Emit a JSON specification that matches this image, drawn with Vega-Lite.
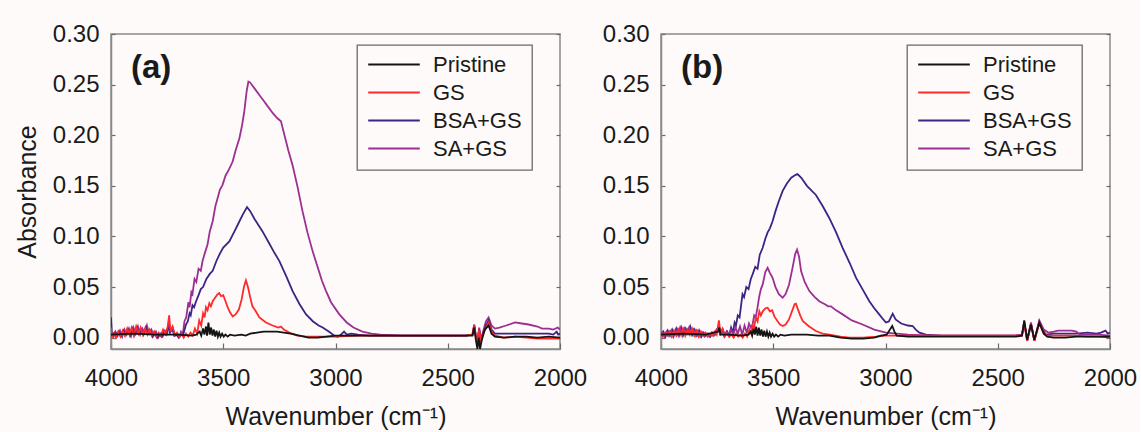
{
"$schema": "https://vega.github.io/schema/vega-lite/v6.json",
"background": "#fdfaf9",
"padding": {"left": 14, "top": 21, "right": 2, "bottom": 2},
"config": {
  "font": "Liberation Sans",
  "view": {"stroke": "#8a8a8a", "strokeWidth": 1.5},
  "axis": {"labelFont": "Liberation Sans", "labelFontSize": 24, "labelColor": "#1a1a1a", "titleFont": "Liberation Sans", "titleFontSize": 25, "titleFontWeight": "normal", "titleColor": "#1a1a1a", "grid": false, "domainColor": "#8a8a8a", "domainWidth": 1.5, "tickColor": "#6a6a6a", "tickWidth": 1.2},
  "legend": {"orient": "none", "legendX": 246, "legendY": 11, "strokeColor": "#6a6a6a", "strokeWidth": 1.3, "fillColor": "#fdfaf9", "padding": 10, "symbolType": "stroke", "symbolSize": 2660, "symbolStrokeWidth": 2, "labelFontSize": 22, "labelFont": "Liberation Sans", "labelColor": "#1a1a1a", "labelOffset": 12, "rowPadding": 5, "clipHeight": 19, "labelLimit": 250}
},
"datasets": {"d": [
{"p":"a","s":"SA+GS","w":4000,"a":0.004},{"p":"a","s":"SA+GS","w":3990,"a":0.001},{"p":"a","s":"SA+GS","w":3980,"a":0.006},{"p":"a","s":"SA+GS","w":3970,"a":0.002},{"p":"a","s":"SA+GS","w":3960,"a":0.007},{"p":"a","s":"SA+GS","w":3950,"a":0.001},{"p":"a","s":"SA+GS","w":3940,"a":0.008},{"p":"a","s":"SA+GS","w":3930,"a":0.003},{"p":"a","s":"SA+GS","w":3920,"a":0.009},{"p":"a","s":"SA+GS","w":3910,"a":0.002},{"p":"a","s":"SA+GS","w":3900,"a":0.010},{"p":"a","s":"SA+GS","w":3890,"a":0.004},{"p":"a","s":"SA+GS","w":3880,"a":0.011},{"p":"a","s":"SA+GS","w":3870,"a":0.003},{"p":"a","s":"SA+GS","w":3860,"a":0.009},{"p":"a","s":"SA+GS","w":3850,"a":0.005},{"p":"a","s":"SA+GS","w":3840,"a":0.012},{"p":"a","s":"SA+GS","w":3830,"a":0.004},{"p":"a","s":"SA+GS","w":3820,"a":0.008},{"p":"a","s":"SA+GS","w":3810,"a":0.002},{"p":"a","s":"SA+GS","w":3800,"a":0.006},{"p":"a","s":"SA+GS","w":3790,"a":0.000},{"p":"a","s":"SA+GS","w":3780,"a":0.004},{"p":"a","s":"SA+GS","w":3770,"a":0.001},{"p":"a","s":"SA+GS","w":3760,"a":0.007},{"p":"a","s":"SA+GS","w":3750,"a":0.004},{"p":"a","s":"SA+GS","w":3742,"a":0.015},{"p":"a","s":"SA+GS","w":3735,"a":0.006},{"p":"a","s":"SA+GS","w":3725,"a":0.010},{"p":"a","s":"SA+GS","w":3715,"a":0.002},{"p":"a","s":"SA+GS","w":3705,"a":0.004},{"p":"a","s":"SA+GS","w":3695,"a":0.001},{"p":"a","s":"SA+GS","w":3688,"a":0.006},{"p":"a","s":"SA+GS","w":3680,"a":0.003},{"p":"a","s":"SA+GS","w":3673,"a":0.016},{"p":"a","s":"SA+GS","w":3665,"a":0.020},{"p":"a","s":"SA+GS","w":3655,"a":0.035},{"p":"a","s":"SA+GS","w":3650,"a":0.030},{"p":"a","s":"SA+GS","w":3642,"a":0.045},{"p":"a","s":"SA+GS","w":3637,"a":0.043},{"p":"a","s":"SA+GS","w":3628,"a":0.058},{"p":"a","s":"SA+GS","w":3620,"a":0.055},{"p":"a","s":"SA+GS","w":3610,"a":0.068},{"p":"a","s":"SA+GS","w":3600,"a":0.066},{"p":"a","s":"SA+GS","w":3592,"a":0.076},{"p":"a","s":"SA+GS","w":3580,"a":0.085},{"p":"a","s":"SA+GS","w":3570,"a":0.092},{"p":"a","s":"SA+GS","w":3560,"a":0.105},{"p":"a","s":"SA+GS","w":3547,"a":0.115},{"p":"a","s":"SA+GS","w":3535,"a":0.130},{"p":"a","s":"SA+GS","w":3525,"a":0.138},{"p":"a","s":"SA+GS","w":3515,"a":0.146},{"p":"a","s":"SA+GS","w":3503,"a":0.151},{"p":"a","s":"SA+GS","w":3490,"a":0.160},{"p":"a","s":"SA+GS","w":3475,"a":0.166},{"p":"a","s":"SA+GS","w":3458,"a":0.174},{"p":"a","s":"SA+GS","w":3445,"a":0.185},{"p":"a","s":"SA+GS","w":3428,"a":0.197},{"p":"a","s":"SA+GS","w":3416,"a":0.210},{"p":"a","s":"SA+GS","w":3406,"a":0.224},{"p":"a","s":"SA+GS","w":3396,"a":0.243},{"p":"a","s":"SA+GS","w":3388,"a":0.253},{"p":"a","s":"SA+GS","w":3380,"a":0.252},{"p":"a","s":"SA+GS","w":3360,"a":0.246},{"p":"a","s":"SA+GS","w":3340,"a":0.240},{"p":"a","s":"SA+GS","w":3320,"a":0.234},{"p":"a","s":"SA+GS","w":3300,"a":0.228},{"p":"a","s":"SA+GS","w":3280,"a":0.222},{"p":"a","s":"SA+GS","w":3260,"a":0.217},{"p":"a","s":"SA+GS","w":3243,"a":0.2137},{"p":"a","s":"SA+GS","w":3225,"a":0.198},{"p":"a","s":"SA+GS","w":3210,"a":0.185},{"p":"a","s":"SA+GS","w":3191,"a":0.170},{"p":"a","s":"SA+GS","w":3170,"a":0.150},{"p":"a","s":"SA+GS","w":3147,"a":0.125},{"p":"a","s":"SA+GS","w":3125,"a":0.104},{"p":"a","s":"SA+GS","w":3102,"a":0.0855},{"p":"a","s":"SA+GS","w":3080,"a":0.070},{"p":"a","s":"SA+GS","w":3060,"a":0.056},{"p":"a","s":"SA+GS","w":3042,"a":0.046},{"p":"a","s":"SA+GS","w":3020,"a":0.035},{"p":"a","s":"SA+GS","w":2983,"a":0.023},{"p":"a","s":"SA+GS","w":2950,"a":0.015},{"p":"a","s":"SA+GS","w":2920,"a":0.010},{"p":"a","s":"SA+GS","w":2880,"a":0.006},{"p":"a","s":"SA+GS","w":2840,"a":0.004},{"p":"a","s":"SA+GS","w":2800,"a":0.003},{"p":"a","s":"SA+GS","w":2700,"a":0.002},{"p":"a","s":"SA+GS","w":2600,"a":0.002},{"p":"a","s":"SA+GS","w":2500,"a":0.002},{"p":"a","s":"SA+GS","w":2420,"a":0.002},{"p":"a","s":"SA+GS","w":2390,"a":0.003},{"p":"a","s":"SA+GS","w":2382,"a":0.013},{"p":"a","s":"SA+GS","w":2375,"a":0.002},{"p":"a","s":"SA+GS","w":2368,"a":-0.004},{"p":"a","s":"SA+GS","w":2360,"a":0.010},{"p":"a","s":"SA+GS","w":2352,"a":-0.003},{"p":"a","s":"SA+GS","w":2345,"a":0.004},{"p":"a","s":"SA+GS","w":2330,"a":0.016},{"p":"a","s":"SA+GS","w":2318,"a":0.020},{"p":"a","s":"SA+GS","w":2305,"a":0.012},{"p":"a","s":"SA+GS","w":2290,"a":0.009},{"p":"a","s":"SA+GS","w":2270,"a":0.010},{"p":"a","s":"SA+GS","w":2240,"a":0.012},{"p":"a","s":"SA+GS","w":2200,"a":0.015},{"p":"a","s":"SA+GS","w":2170,"a":0.014},{"p":"a","s":"SA+GS","w":2140,"a":0.013},{"p":"a","s":"SA+GS","w":2100,"a":0.011},{"p":"a","s":"SA+GS","w":2080,"a":0.009},{"p":"a","s":"SA+GS","w":2050,"a":0.009},{"p":"a","s":"SA+GS","w":2030,"a":0.008},{"p":"a","s":"SA+GS","w":2010,"a":0.010},{"p":"a","s":"SA+GS","w":2000,"a":0.008},
{"p":"a","s":"BSA+GS","w":4000,"a":0.020},{"p":"a","s":"BSA+GS","w":3996,"a":0.003},{"p":"a","s":"BSA+GS","w":3985,"a":0.005},{"p":"a","s":"BSA+GS","w":3975,"a":0.001},{"p":"a","s":"BSA+GS","w":3965,"a":0.006},{"p":"a","s":"BSA+GS","w":3955,"a":0.002},{"p":"a","s":"BSA+GS","w":3945,"a":0.007},{"p":"a","s":"BSA+GS","w":3935,"a":0.003},{"p":"a","s":"BSA+GS","w":3925,"a":0.008},{"p":"a","s":"BSA+GS","w":3915,"a":0.002},{"p":"a","s":"BSA+GS","w":3905,"a":0.009},{"p":"a","s":"BSA+GS","w":3895,"a":0.003},{"p":"a","s":"BSA+GS","w":3885,"a":0.010},{"p":"a","s":"BSA+GS","w":3875,"a":0.004},{"p":"a","s":"BSA+GS","w":3865,"a":0.008},{"p":"a","s":"BSA+GS","w":3855,"a":0.003},{"p":"a","s":"BSA+GS","w":3845,"a":0.010},{"p":"a","s":"BSA+GS","w":3835,"a":0.004},{"p":"a","s":"BSA+GS","w":3825,"a":0.007},{"p":"a","s":"BSA+GS","w":3815,"a":0.001},{"p":"a","s":"BSA+GS","w":3805,"a":0.005},{"p":"a","s":"BSA+GS","w":3795,"a":0.000},{"p":"a","s":"BSA+GS","w":3785,"a":0.003},{"p":"a","s":"BSA+GS","w":3775,"a":0.001},{"p":"a","s":"BSA+GS","w":3765,"a":0.006},{"p":"a","s":"BSA+GS","w":3755,"a":0.003},{"p":"a","s":"BSA+GS","w":3745,"a":0.012},{"p":"a","s":"BSA+GS","w":3738,"a":0.005},{"p":"a","s":"BSA+GS","w":3728,"a":0.009},{"p":"a","s":"BSA+GS","w":3718,"a":0.002},{"p":"a","s":"BSA+GS","w":3708,"a":0.003},{"p":"a","s":"BSA+GS","w":3698,"a":0.000},{"p":"a","s":"BSA+GS","w":3688,"a":0.003},{"p":"a","s":"BSA+GS","w":3680,"a":0.002},{"p":"a","s":"BSA+GS","w":3672,"a":0.008},{"p":"a","s":"BSA+GS","w":3666,"a":0.013},{"p":"a","s":"BSA+GS","w":3658,"a":0.016},{"p":"a","s":"BSA+GS","w":3650,"a":0.024},{"p":"a","s":"BSA+GS","w":3645,"a":0.022},{"p":"a","s":"BSA+GS","w":3637,"a":0.032},{"p":"a","s":"BSA+GS","w":3630,"a":0.030},{"p":"a","s":"BSA+GS","w":3621,"a":0.036},{"p":"a","s":"BSA+GS","w":3610,"a":0.042},{"p":"a","s":"BSA+GS","w":3600,"a":0.048},{"p":"a","s":"BSA+GS","w":3590,"a":0.050},{"p":"a","s":"BSA+GS","w":3575,"a":0.058},{"p":"a","s":"BSA+GS","w":3560,"a":0.063},{"p":"a","s":"BSA+GS","w":3547,"a":0.066},{"p":"a","s":"BSA+GS","w":3530,"a":0.076},{"p":"a","s":"BSA+GS","w":3515,"a":0.083},{"p":"a","s":"BSA+GS","w":3500,"a":0.089},{"p":"a","s":"BSA+GS","w":3473,"a":0.095},{"p":"a","s":"BSA+GS","w":3450,"a":0.105},{"p":"a","s":"BSA+GS","w":3430,"a":0.114},{"p":"a","s":"BSA+GS","w":3412,"a":0.122},{"p":"a","s":"BSA+GS","w":3394,"a":0.129},{"p":"a","s":"BSA+GS","w":3380,"a":0.125},{"p":"a","s":"BSA+GS","w":3360,"a":0.117},{"p":"a","s":"BSA+GS","w":3340,"a":0.110},{"p":"a","s":"BSA+GS","w":3325,"a":0.105},{"p":"a","s":"BSA+GS","w":3300,"a":0.095},{"p":"a","s":"BSA+GS","w":3275,"a":0.085},{"p":"a","s":"BSA+GS","w":3250,"a":0.0756},{"p":"a","s":"BSA+GS","w":3220,"a":0.061},{"p":"a","s":"BSA+GS","w":3191,"a":0.046},{"p":"a","s":"BSA+GS","w":3160,"a":0.033},{"p":"a","s":"BSA+GS","w":3131,"a":0.023},{"p":"a","s":"BSA+GS","w":3100,"a":0.016},{"p":"a","s":"BSA+GS","w":3075,"a":0.012},{"p":"a","s":"BSA+GS","w":3057,"a":0.010},{"p":"a","s":"BSA+GS","w":3030,"a":0.006},{"p":"a","s":"BSA+GS","w":3005,"a":0.002},{"p":"a","s":"BSA+GS","w":2990,"a":0.001},{"p":"a","s":"BSA+GS","w":2975,"a":0.003},{"p":"a","s":"BSA+GS","w":2962,"a":0.006},{"p":"a","s":"BSA+GS","w":2950,"a":0.003},{"p":"a","s":"BSA+GS","w":2930,"a":0.004},{"p":"a","s":"BSA+GS","w":2900,"a":0.003},{"p":"a","s":"BSA+GS","w":2850,"a":0.002},{"p":"a","s":"BSA+GS","w":2800,"a":0.002},{"p":"a","s":"BSA+GS","w":2700,"a":0.002},{"p":"a","s":"BSA+GS","w":2600,"a":0.002},{"p":"a","s":"BSA+GS","w":2500,"a":0.002},{"p":"a","s":"BSA+GS","w":2420,"a":0.002},{"p":"a","s":"BSA+GS","w":2390,"a":0.003},{"p":"a","s":"BSA+GS","w":2382,"a":0.012},{"p":"a","s":"BSA+GS","w":2375,"a":0.002},{"p":"a","s":"BSA+GS","w":2368,"a":-0.005},{"p":"a","s":"BSA+GS","w":2360,"a":0.008},{"p":"a","s":"BSA+GS","w":2352,"a":-0.004},{"p":"a","s":"BSA+GS","w":2345,"a":0.003},{"p":"a","s":"BSA+GS","w":2330,"a":0.012},{"p":"a","s":"BSA+GS","w":2318,"a":0.017},{"p":"a","s":"BSA+GS","w":2305,"a":0.008},{"p":"a","s":"BSA+GS","w":2290,"a":0.004},{"p":"a","s":"BSA+GS","w":2250,"a":0.004},{"p":"a","s":"BSA+GS","w":2200,"a":0.004},{"p":"a","s":"BSA+GS","w":2150,"a":0.004},{"p":"a","s":"BSA+GS","w":2100,"a":0.004},{"p":"a","s":"BSA+GS","w":2050,"a":0.004},{"p":"a","s":"BSA+GS","w":2030,"a":0.003},{"p":"a","s":"BSA+GS","w":2015,"a":0.006},{"p":"a","s":"BSA+GS","w":2008,"a":0.003},{"p":"a","s":"BSA+GS","w":2000,"a":0.004},
{"p":"a","s":"GS","w":4000,"a":0.010},{"p":"a","s":"GS","w":3995,"a":0.001},{"p":"a","s":"GS","w":3986,"a":0.004},{"p":"a","s":"GS","w":3978,"a":0.000},{"p":"a","s":"GS","w":3968,"a":0.006},{"p":"a","s":"GS","w":3958,"a":0.001},{"p":"a","s":"GS","w":3948,"a":0.007},{"p":"a","s":"GS","w":3938,"a":0.002},{"p":"a","s":"GS","w":3928,"a":0.009},{"p":"a","s":"GS","w":3918,"a":0.003},{"p":"a","s":"GS","w":3908,"a":0.010},{"p":"a","s":"GS","w":3898,"a":0.002},{"p":"a","s":"GS","w":3888,"a":0.011},{"p":"a","s":"GS","w":3878,"a":0.004},{"p":"a","s":"GS","w":3868,"a":0.010},{"p":"a","s":"GS","w":3858,"a":0.003},{"p":"a","s":"GS","w":3848,"a":0.009},{"p":"a","s":"GS","w":3838,"a":0.003},{"p":"a","s":"GS","w":3828,"a":0.008},{"p":"a","s":"GS","w":3818,"a":0.002},{"p":"a","s":"GS","w":3808,"a":0.006},{"p":"a","s":"GS","w":3798,"a":0.001},{"p":"a","s":"GS","w":3788,"a":0.005},{"p":"a","s":"GS","w":3778,"a":0.002},{"p":"a","s":"GS","w":3768,"a":0.008},{"p":"a","s":"GS","w":3758,"a":0.004},{"p":"a","s":"GS","w":3748,"a":0.010},{"p":"a","s":"GS","w":3741,"a":0.022},{"p":"a","s":"GS","w":3735,"a":0.006},{"p":"a","s":"GS","w":3726,"a":0.011},{"p":"a","s":"GS","w":3716,"a":0.003},{"p":"a","s":"GS","w":3706,"a":0.005},{"p":"a","s":"GS","w":3696,"a":0.001},{"p":"a","s":"GS","w":3686,"a":0.004},{"p":"a","s":"GS","w":3676,"a":0.000},{"p":"a","s":"GS","w":3666,"a":0.004},{"p":"a","s":"GS","w":3656,"a":0.001},{"p":"a","s":"GS","w":3646,"a":0.005},{"p":"a","s":"GS","w":3636,"a":0.002},{"p":"a","s":"GS","w":3626,"a":0.009},{"p":"a","s":"GS","w":3616,"a":0.004},{"p":"a","s":"GS","w":3607,"a":0.017},{"p":"a","s":"GS","w":3598,"a":0.012},{"p":"a","s":"GS","w":3590,"a":0.024},{"p":"a","s":"GS","w":3583,"a":0.020},{"p":"a","s":"GS","w":3577,"a":0.030},{"p":"a","s":"GS","w":3570,"a":0.027},{"p":"a","s":"GS","w":3562,"a":0.034},{"p":"a","s":"GS","w":3555,"a":0.031},{"p":"a","s":"GS","w":3547,"a":0.036},{"p":"a","s":"GS","w":3535,"a":0.040},{"p":"a","s":"GS","w":3525,"a":0.043},{"p":"a","s":"GS","w":3518,"a":0.044},{"p":"a","s":"GS","w":3510,"a":0.041},{"p":"a","s":"GS","w":3500,"a":0.042},{"p":"a","s":"GS","w":3490,"a":0.036},{"p":"a","s":"GS","w":3480,"a":0.030},{"p":"a","s":"GS","w":3470,"a":0.025},{"p":"a","s":"GS","w":3458,"a":0.021},{"p":"a","s":"GS","w":3445,"a":0.023},{"p":"a","s":"GS","w":3430,"a":0.028},{"p":"a","s":"GS","w":3418,"a":0.038},{"p":"a","s":"GS","w":3408,"a":0.050},{"p":"a","s":"GS","w":3399,"a":0.0566},{"p":"a","s":"GS","w":3390,"a":0.050},{"p":"a","s":"GS","w":3380,"a":0.040},{"p":"a","s":"GS","w":3370,"a":0.031},{"p":"a","s":"GS","w":3355,"a":0.026},{"p":"a","s":"GS","w":3339,"a":0.020},{"p":"a","s":"GS","w":3310,"a":0.015},{"p":"a","s":"GS","w":3280,"a":0.012},{"p":"a","s":"GS","w":3255,"a":0.010},{"p":"a","s":"GS","w":3243,"a":0.011},{"p":"a","s":"GS","w":3230,"a":0.008},{"p":"a","s":"GS","w":3206,"a":0.005},{"p":"a","s":"GS","w":3170,"a":0.002},{"p":"a","s":"GS","w":3131,"a":0.001},{"p":"a","s":"GS","w":3000,"a":0.001},{"p":"a","s":"GS","w":2900,"a":0.002},{"p":"a","s":"GS","w":2700,"a":0.002},{"p":"a","s":"GS","w":2500,"a":0.002},{"p":"a","s":"GS","w":2420,"a":0.002},{"p":"a","s":"GS","w":2390,"a":0.003},{"p":"a","s":"GS","w":2382,"a":0.012},{"p":"a","s":"GS","w":2375,"a":0.001},{"p":"a","s":"GS","w":2368,"a":-0.004},{"p":"a","s":"GS","w":2360,"a":0.008},{"p":"a","s":"GS","w":2352,"a":-0.003},{"p":"a","s":"GS","w":2345,"a":0.002},{"p":"a","s":"GS","w":2330,"a":0.010},{"p":"a","s":"GS","w":2318,"a":0.015},{"p":"a","s":"GS","w":2305,"a":0.006},{"p":"a","s":"GS","w":2290,"a":0.002},{"p":"a","s":"GS","w":2250,"a":0.000},{"p":"a","s":"GS","w":2200,"a":0.001},{"p":"a","s":"GS","w":2150,"a":0.000},{"p":"a","s":"GS","w":2100,"a":-0.001},{"p":"a","s":"GS","w":2050,"a":-0.001},{"p":"a","s":"GS","w":2000,"a":-0.001},
{"p":"a","s":"Pristine","w":4000,"a":0.003},{"p":"a","s":"Pristine","w":3900,"a":0.004},{"p":"a","s":"Pristine","w":3800,"a":0.003},{"p":"a","s":"Pristine","w":3700,"a":0.003},{"p":"a","s":"Pristine","w":3640,"a":0.002},{"p":"a","s":"Pristine","w":3620,"a":0.003},{"p":"a","s":"Pristine","w":3605,"a":0.006},{"p":"a","s":"Pristine","w":3598,"a":0.002},{"p":"a","s":"Pristine","w":3590,"a":0.009},{"p":"a","s":"Pristine","w":3584,"a":0.003},{"p":"a","s":"Pristine","w":3577,"a":0.011},{"p":"a","s":"Pristine","w":3572,"a":0.002},{"p":"a","s":"Pristine","w":3566,"a":0.015},{"p":"a","s":"Pristine","w":3560,"a":0.003},{"p":"a","s":"Pristine","w":3554,"a":0.010},{"p":"a","s":"Pristine","w":3548,"a":0.002},{"p":"a","s":"Pristine","w":3542,"a":0.008},{"p":"a","s":"Pristine","w":3536,"a":0.001},{"p":"a","s":"Pristine","w":3530,"a":0.007},{"p":"a","s":"Pristine","w":3524,"a":0.001},{"p":"a","s":"Pristine","w":3518,"a":0.005},{"p":"a","s":"Pristine","w":3512,"a":0.001},{"p":"a","s":"Pristine","w":3505,"a":0.004},{"p":"a","s":"Pristine","w":3498,"a":0.001},{"p":"a","s":"Pristine","w":3490,"a":0.003},{"p":"a","s":"Pristine","w":3480,"a":0.001},{"p":"a","s":"Pristine","w":3470,"a":0.003},{"p":"a","s":"Pristine","w":3450,"a":0.002},{"p":"a","s":"Pristine","w":3420,"a":0.003},{"p":"a","s":"Pristine","w":3400,"a":0.002},{"p":"a","s":"Pristine","w":3380,"a":0.004},{"p":"a","s":"Pristine","w":3350,"a":0.005},{"p":"a","s":"Pristine","w":3320,"a":0.006},{"p":"a","s":"Pristine","w":3290,"a":0.006},{"p":"a","s":"Pristine","w":3260,"a":0.006},{"p":"a","s":"Pristine","w":3230,"a":0.005},{"p":"a","s":"Pristine","w":3200,"a":0.004},{"p":"a","s":"Pristine","w":3160,"a":0.002},{"p":"a","s":"Pristine","w":3120,"a":0.000},{"p":"a","s":"Pristine","w":3080,"a":0.000},{"p":"a","s":"Pristine","w":3040,"a":0.001},{"p":"a","s":"Pristine","w":3000,"a":0.002},{"p":"a","s":"Pristine","w":2900,"a":0.002},{"p":"a","s":"Pristine","w":2800,"a":0.002},{"p":"a","s":"Pristine","w":2600,"a":0.002},{"p":"a","s":"Pristine","w":2420,"a":0.002},{"p":"a","s":"Pristine","w":2390,"a":0.002},{"p":"a","s":"Pristine","w":2382,"a":0.010},{"p":"a","s":"Pristine","w":2375,"a":-0.002},{"p":"a","s":"Pristine","w":2368,"a":-0.011},{"p":"a","s":"Pristine","w":2362,"a":0.000},{"p":"a","s":"Pristine","w":2356,"a":-0.011},{"p":"a","s":"Pristine","w":2348,"a":-0.002},{"p":"a","s":"Pristine","w":2335,"a":0.008},{"p":"a","s":"Pristine","w":2318,"a":0.012},{"p":"a","s":"Pristine","w":2305,"a":0.004},{"p":"a","s":"Pristine","w":2290,"a":0.001},{"p":"a","s":"Pristine","w":2250,"a":0.000},{"p":"a","s":"Pristine","w":2200,"a":0.001},{"p":"a","s":"Pristine","w":2150,"a":0.001},{"p":"a","s":"Pristine","w":2100,"a":0.000},{"p":"a","s":"Pristine","w":2050,"a":0.001},{"p":"a","s":"Pristine","w":2000,"a":0.000},
{"p":"b","s":"BSA+GS","w":4000,"a":0.003},{"p":"b","s":"BSA+GS","w":3990,"a":0.006},{"p":"b","s":"BSA+GS","w":3980,"a":0.001},{"p":"b","s":"BSA+GS","w":3970,"a":0.007},{"p":"b","s":"BSA+GS","w":3960,"a":0.002},{"p":"b","s":"BSA+GS","w":3950,"a":0.008},{"p":"b","s":"BSA+GS","w":3940,"a":0.003},{"p":"b","s":"BSA+GS","w":3930,"a":0.009},{"p":"b","s":"BSA+GS","w":3920,"a":0.002},{"p":"b","s":"BSA+GS","w":3910,"a":0.010},{"p":"b","s":"BSA+GS","w":3900,"a":0.003},{"p":"b","s":"BSA+GS","w":3890,"a":0.009},{"p":"b","s":"BSA+GS","w":3880,"a":0.004},{"p":"b","s":"BSA+GS","w":3870,"a":0.011},{"p":"b","s":"BSA+GS","w":3860,"a":0.003},{"p":"b","s":"BSA+GS","w":3850,"a":0.008},{"p":"b","s":"BSA+GS","w":3840,"a":0.002},{"p":"b","s":"BSA+GS","w":3830,"a":0.007},{"p":"b","s":"BSA+GS","w":3820,"a":0.001},{"p":"b","s":"BSA+GS","w":3810,"a":0.005},{"p":"b","s":"BSA+GS","w":3800,"a":0.002},{"p":"b","s":"BSA+GS","w":3790,"a":0.004},{"p":"b","s":"BSA+GS","w":3780,"a":0.001},{"p":"b","s":"BSA+GS","w":3770,"a":0.005},{"p":"b","s":"BSA+GS","w":3760,"a":0.003},{"p":"b","s":"BSA+GS","w":3750,"a":0.008},{"p":"b","s":"BSA+GS","w":3742,"a":0.012},{"p":"b","s":"BSA+GS","w":3735,"a":0.004},{"p":"b","s":"BSA+GS","w":3725,"a":0.008},{"p":"b","s":"BSA+GS","w":3715,"a":0.002},{"p":"b","s":"BSA+GS","w":3705,"a":0.006},{"p":"b","s":"BSA+GS","w":3696,"a":0.002},{"p":"b","s":"BSA+GS","w":3688,"a":0.010},{"p":"b","s":"BSA+GS","w":3680,"a":0.005},{"p":"b","s":"BSA+GS","w":3672,"a":0.015},{"p":"b","s":"BSA+GS","w":3666,"a":0.012},{"p":"b","s":"BSA+GS","w":3658,"a":0.022},{"p":"b","s":"BSA+GS","w":3650,"a":0.020},{"p":"b","s":"BSA+GS","w":3637,"a":0.043},{"p":"b","s":"BSA+GS","w":3630,"a":0.040},{"p":"b","s":"BSA+GS","w":3620,"a":0.050},{"p":"b","s":"BSA+GS","w":3610,"a":0.048},{"p":"b","s":"BSA+GS","w":3600,"a":0.058},{"p":"b","s":"BSA+GS","w":3592,"a":0.0625},{"p":"b","s":"BSA+GS","w":3580,"a":0.070},{"p":"b","s":"BSA+GS","w":3570,"a":0.068},{"p":"b","s":"BSA+GS","w":3560,"a":0.082},{"p":"b","s":"BSA+GS","w":3547,"a":0.0888},{"p":"b","s":"BSA+GS","w":3535,"a":0.098},{"p":"b","s":"BSA+GS","w":3525,"a":0.104},{"p":"b","s":"BSA+GS","w":3515,"a":0.108},{"p":"b","s":"BSA+GS","w":3503,"a":0.115},{"p":"b","s":"BSA+GS","w":3490,"a":0.125},{"p":"b","s":"BSA+GS","w":3475,"a":0.135},{"p":"b","s":"BSA+GS","w":3458,"a":0.145},{"p":"b","s":"BSA+GS","w":3440,"a":0.152},{"p":"b","s":"BSA+GS","w":3420,"a":0.158},{"p":"b","s":"BSA+GS","w":3400,"a":0.161},{"p":"b","s":"BSA+GS","w":3392,"a":0.1617},{"p":"b","s":"BSA+GS","w":3375,"a":0.158},{"p":"b","s":"BSA+GS","w":3350,"a":0.150},{"p":"b","s":"BSA+GS","w":3310,"a":0.141},{"p":"b","s":"BSA+GS","w":3280,"a":0.130},{"p":"b","s":"BSA+GS","w":3250,"a":0.118},{"p":"b","s":"BSA+GS","w":3220,"a":0.104},{"p":"b","s":"BSA+GS","w":3191,"a":0.0888},{"p":"b","s":"BSA+GS","w":3160,"a":0.074},{"p":"b","s":"BSA+GS","w":3131,"a":0.059},{"p":"b","s":"BSA+GS","w":3100,"a":0.047},{"p":"b","s":"BSA+GS","w":3072,"a":0.036},{"p":"b","s":"BSA+GS","w":3050,"a":0.029},{"p":"b","s":"BSA+GS","w":3028,"a":0.023},{"p":"b","s":"BSA+GS","w":3010,"a":0.018},{"p":"b","s":"BSA+GS","w":2998,"a":0.015},{"p":"b","s":"BSA+GS","w":2985,"a":0.016},{"p":"b","s":"BSA+GS","w":2968,"a":0.0237},{"p":"b","s":"BSA+GS","w":2955,"a":0.018},{"p":"b","s":"BSA+GS","w":2930,"a":0.014},{"p":"b","s":"BSA+GS","w":2900,"a":0.012},{"p":"b","s":"BSA+GS","w":2879,"a":0.0115},{"p":"b","s":"BSA+GS","w":2865,"a":0.008},{"p":"b","s":"BSA+GS","w":2849,"a":0.005},{"p":"b","s":"BSA+GS","w":2820,"a":0.003},{"p":"b","s":"BSA+GS","w":2750,"a":0.002},{"p":"b","s":"BSA+GS","w":2600,"a":0.002},{"p":"b","s":"BSA+GS","w":2500,"a":0.002},{"p":"b","s":"BSA+GS","w":2420,"a":0.002},{"p":"b","s":"BSA+GS","w":2392,"a":0.003},{"p":"b","s":"BSA+GS","w":2382,"a":0.015},{"p":"b","s":"BSA+GS","w":2369,"a":-0.003},{"p":"b","s":"BSA+GS","w":2352,"a":0.014},{"p":"b","s":"BSA+GS","w":2337,"a":-0.003},{"p":"b","s":"BSA+GS","w":2315,"a":0.016},{"p":"b","s":"BSA+GS","w":2295,"a":0.006},{"p":"b","s":"BSA+GS","w":2285,"a":0.003},{"p":"b","s":"BSA+GS","w":2250,"a":0.004},{"p":"b","s":"BSA+GS","w":2200,"a":0.004},{"p":"b","s":"BSA+GS","w":2150,"a":0.004},{"p":"b","s":"BSA+GS","w":2100,"a":0.005},{"p":"b","s":"BSA+GS","w":2060,"a":0.004},{"p":"b","s":"BSA+GS","w":2040,"a":0.005},{"p":"b","s":"BSA+GS","w":2020,"a":0.007},{"p":"b","s":"BSA+GS","w":2010,"a":0.004},{"p":"b","s":"BSA+GS","w":2000,"a":0.005},
{"p":"b","s":"SA+GS","w":4000,"a":0.002},{"p":"b","s":"SA+GS","w":3993,"a":0.005},{"p":"b","s":"SA+GS","w":3985,"a":0.001},{"p":"b","s":"SA+GS","w":3975,"a":0.006},{"p":"b","s":"SA+GS","w":3965,"a":0.002},{"p":"b","s":"SA+GS","w":3955,"a":0.007},{"p":"b","s":"SA+GS","w":3945,"a":0.001},{"p":"b","s":"SA+GS","w":3935,"a":0.008},{"p":"b","s":"SA+GS","w":3925,"a":0.003},{"p":"b","s":"SA+GS","w":3915,"a":0.010},{"p":"b","s":"SA+GS","w":3905,"a":0.002},{"p":"b","s":"SA+GS","w":3895,"a":0.009},{"p":"b","s":"SA+GS","w":3885,"a":0.004},{"p":"b","s":"SA+GS","w":3875,"a":0.010},{"p":"b","s":"SA+GS","w":3865,"a":0.003},{"p":"b","s":"SA+GS","w":3855,"a":0.008},{"p":"b","s":"SA+GS","w":3845,"a":0.002},{"p":"b","s":"SA+GS","w":3835,"a":0.007},{"p":"b","s":"SA+GS","w":3825,"a":0.001},{"p":"b","s":"SA+GS","w":3815,"a":0.005},{"p":"b","s":"SA+GS","w":3805,"a":0.001},{"p":"b","s":"SA+GS","w":3795,"a":0.004},{"p":"b","s":"SA+GS","w":3785,"a":0.001},{"p":"b","s":"SA+GS","w":3775,"a":0.005},{"p":"b","s":"SA+GS","w":3765,"a":0.002},{"p":"b","s":"SA+GS","w":3755,"a":0.007},{"p":"b","s":"SA+GS","w":3745,"a":0.010},{"p":"b","s":"SA+GS","w":3738,"a":0.004},{"p":"b","s":"SA+GS","w":3728,"a":0.007},{"p":"b","s":"SA+GS","w":3718,"a":0.001},{"p":"b","s":"SA+GS","w":3708,"a":0.006},{"p":"b","s":"SA+GS","w":3698,"a":0.002},{"p":"b","s":"SA+GS","w":3688,"a":0.008},{"p":"b","s":"SA+GS","w":3678,"a":0.003},{"p":"b","s":"SA+GS","w":3668,"a":0.010},{"p":"b","s":"SA+GS","w":3658,"a":0.004},{"p":"b","s":"SA+GS","w":3648,"a":0.011},{"p":"b","s":"SA+GS","w":3638,"a":0.003},{"p":"b","s":"SA+GS","w":3628,"a":0.012},{"p":"b","s":"SA+GS","w":3618,"a":0.005},{"p":"b","s":"SA+GS","w":3608,"a":0.014},{"p":"b","s":"SA+GS","w":3600,"a":0.010},{"p":"b","s":"SA+GS","w":3592,"a":0.013},{"p":"b","s":"SA+GS","w":3585,"a":0.022},{"p":"b","s":"SA+GS","w":3578,"a":0.020},{"p":"b","s":"SA+GS","w":3570,"a":0.030},{"p":"b","s":"SA+GS","w":3563,"a":0.040},{"p":"b","s":"SA+GS","w":3555,"a":0.048},{"p":"b","s":"SA+GS","w":3547,"a":0.0526},{"p":"b","s":"SA+GS","w":3535,"a":0.065},{"p":"b","s":"SA+GS","w":3525,"a":0.069},{"p":"b","s":"SA+GS","w":3515,"a":0.064},{"p":"b","s":"SA+GS","w":3503,"a":0.0592},{"p":"b","s":"SA+GS","w":3490,"a":0.050},{"p":"b","s":"SA+GS","w":3475,"a":0.043},{"p":"b","s":"SA+GS","w":3458,"a":0.0394},{"p":"b","s":"SA+GS","w":3445,"a":0.043},{"p":"b","s":"SA+GS","w":3430,"a":0.052},{"p":"b","s":"SA+GS","w":3415,"a":0.068},{"p":"b","s":"SA+GS","w":3402,"a":0.083},{"p":"b","s":"SA+GS","w":3394,"a":0.087},{"p":"b","s":"SA+GS","w":3385,"a":0.080},{"p":"b","s":"SA+GS","w":3376,"a":0.0658},{"p":"b","s":"SA+GS","w":3360,"a":0.055},{"p":"b","s":"SA+GS","w":3339,"a":0.046},{"p":"b","s":"SA+GS","w":3315,"a":0.040},{"p":"b","s":"SA+GS","w":3295,"a":0.036},{"p":"b","s":"SA+GS","w":3270,"a":0.033},{"p":"b","s":"SA+GS","w":3255,"a":0.031},{"p":"b","s":"SA+GS","w":3243,"a":0.031},{"p":"b","s":"SA+GS","w":3220,"a":0.027},{"p":"b","s":"SA+GS","w":3191,"a":0.023},{"p":"b","s":"SA+GS","w":3150,"a":0.017},{"p":"b","s":"SA+GS","w":3102,"a":0.013},{"p":"b","s":"SA+GS","w":3050,"a":0.008},{"p":"b","s":"SA+GS","w":2998,"a":0.005},{"p":"b","s":"SA+GS","w":2950,"a":0.004},{"p":"b","s":"SA+GS","w":2900,"a":0.003},{"p":"b","s":"SA+GS","w":2800,"a":0.002},{"p":"b","s":"SA+GS","w":2600,"a":0.002},{"p":"b","s":"SA+GS","w":2420,"a":0.002},{"p":"b","s":"SA+GS","w":2392,"a":0.003},{"p":"b","s":"SA+GS","w":2382,"a":0.016},{"p":"b","s":"SA+GS","w":2369,"a":-0.003},{"p":"b","s":"SA+GS","w":2352,"a":0.015},{"p":"b","s":"SA+GS","w":2337,"a":-0.003},{"p":"b","s":"SA+GS","w":2315,"a":0.017},{"p":"b","s":"SA+GS","w":2295,"a":0.008},{"p":"b","s":"SA+GS","w":2275,"a":0.005},{"p":"b","s":"SA+GS","w":2250,"a":0.006},{"p":"b","s":"SA+GS","w":2230,"a":0.007},{"p":"b","s":"SA+GS","w":2200,"a":0.007},{"p":"b","s":"SA+GS","w":2170,"a":0.007},{"p":"b","s":"SA+GS","w":2150,"a":0.006},{"p":"b","s":"SA+GS","w":2135,"a":0.003},{"p":"b","s":"SA+GS","w":2100,"a":0.003},{"p":"b","s":"SA+GS","w":2050,"a":0.003},{"p":"b","s":"SA+GS","w":2000,"a":0.002},
{"p":"b","s":"GS","w":4000,"a":0.004},{"p":"b","s":"GS","w":3992,"a":0.001},{"p":"b","s":"GS","w":3982,"a":0.005},{"p":"b","s":"GS","w":3972,"a":0.002},{"p":"b","s":"GS","w":3962,"a":0.006},{"p":"b","s":"GS","w":3952,"a":0.001},{"p":"b","s":"GS","w":3942,"a":0.007},{"p":"b","s":"GS","w":3932,"a":0.002},{"p":"b","s":"GS","w":3922,"a":0.008},{"p":"b","s":"GS","w":3912,"a":0.003},{"p":"b","s":"GS","w":3902,"a":0.009},{"p":"b","s":"GS","w":3892,"a":0.002},{"p":"b","s":"GS","w":3882,"a":0.008},{"p":"b","s":"GS","w":3872,"a":0.003},{"p":"b","s":"GS","w":3862,"a":0.009},{"p":"b","s":"GS","w":3852,"a":0.002},{"p":"b","s":"GS","w":3842,"a":0.007},{"p":"b","s":"GS","w":3832,"a":0.001},{"p":"b","s":"GS","w":3822,"a":0.006},{"p":"b","s":"GS","w":3812,"a":0.002},{"p":"b","s":"GS","w":3802,"a":0.005},{"p":"b","s":"GS","w":3792,"a":0.001},{"p":"b","s":"GS","w":3782,"a":0.004},{"p":"b","s":"GS","w":3772,"a":0.002},{"p":"b","s":"GS","w":3762,"a":0.006},{"p":"b","s":"GS","w":3752,"a":0.003},{"p":"b","s":"GS","w":3742,"a":0.017},{"p":"b","s":"GS","w":3736,"a":0.005},{"p":"b","s":"GS","w":3726,"a":0.009},{"p":"b","s":"GS","w":3716,"a":0.002},{"p":"b","s":"GS","w":3706,"a":0.004},{"p":"b","s":"GS","w":3696,"a":0.001},{"p":"b","s":"GS","w":3686,"a":0.003},{"p":"b","s":"GS","w":3676,"a":0.000},{"p":"b","s":"GS","w":3666,"a":0.004},{"p":"b","s":"GS","w":3656,"a":0.001},{"p":"b","s":"GS","w":3646,"a":0.003},{"p":"b","s":"GS","w":3636,"a":0.000},{"p":"b","s":"GS","w":3626,"a":0.004},{"p":"b","s":"GS","w":3616,"a":0.001},{"p":"b","s":"GS","w":3606,"a":0.008},{"p":"b","s":"GS","w":3598,"a":0.004},{"p":"b","s":"GS","w":3592,"a":0.012},{"p":"b","s":"GS","w":3585,"a":0.010},{"p":"b","s":"GS","w":3578,"a":0.020},{"p":"b","s":"GS","w":3570,"a":0.016},{"p":"b","s":"GS","w":3562,"a":0.026},{"p":"b","s":"GS","w":3555,"a":0.022},{"p":"b","s":"GS","w":3547,"a":0.026},{"p":"b","s":"GS","w":3535,"a":0.029},{"p":"b","s":"GS","w":3525,"a":0.0296},{"p":"b","s":"GS","w":3515,"a":0.026},{"p":"b","s":"GS","w":3505,"a":0.027},{"p":"b","s":"GS","w":3495,"a":0.021},{"p":"b","s":"GS","w":3480,"a":0.016},{"p":"b","s":"GS","w":3470,"a":0.013},{"p":"b","s":"GS","w":3458,"a":0.0115},{"p":"b","s":"GS","w":3445,"a":0.013},{"p":"b","s":"GS","w":3430,"a":0.018},{"p":"b","s":"GS","w":3415,"a":0.027},{"p":"b","s":"GS","w":3405,"a":0.033},{"p":"b","s":"GS","w":3399,"a":0.0335},{"p":"b","s":"GS","w":3390,"a":0.028},{"p":"b","s":"GS","w":3380,"a":0.022},{"p":"b","s":"GS","w":3369,"a":0.0165},{"p":"b","s":"GS","w":3340,"a":0.011},{"p":"b","s":"GS","w":3310,"a":0.0066},{"p":"b","s":"GS","w":3280,"a":0.004},{"p":"b","s":"GS","w":3250,"a":0.003},{"p":"b","s":"GS","w":3200,"a":0.001},{"p":"b","s":"GS","w":3161,"a":0.000},{"p":"b","s":"GS","w":3100,"a":0.000},{"p":"b","s":"GS","w":3042,"a":0.001},{"p":"b","s":"GS","w":3000,"a":0.002},{"p":"b","s":"GS","w":2950,"a":0.002},{"p":"b","s":"GS","w":2900,"a":0.002},{"p":"b","s":"GS","w":2800,"a":0.002},{"p":"b","s":"GS","w":2600,"a":0.002},{"p":"b","s":"GS","w":2420,"a":0.002},{"p":"b","s":"GS","w":2392,"a":0.002},{"p":"b","s":"GS","w":2382,"a":0.014},{"p":"b","s":"GS","w":2369,"a":-0.003},{"p":"b","s":"GS","w":2352,"a":0.013},{"p":"b","s":"GS","w":2337,"a":-0.003},{"p":"b","s":"GS","w":2315,"a":0.014},{"p":"b","s":"GS","w":2295,"a":0.004},{"p":"b","s":"GS","w":2280,"a":0.002},{"p":"b","s":"GS","w":2250,"a":0.002},{"p":"b","s":"GS","w":2200,"a":0.002},{"p":"b","s":"GS","w":2150,"a":0.002},{"p":"b","s":"GS","w":2100,"a":0.001},{"p":"b","s":"GS","w":2050,"a":0.001},{"p":"b","s":"GS","w":2000,"a":0.000},
{"p":"b","s":"Pristine","w":4000,"a":0.003},{"p":"b","s":"Pristine","w":3900,"a":0.004},{"p":"b","s":"Pristine","w":3800,"a":0.003},{"p":"b","s":"Pristine","w":3745,"a":0.006},{"p":"b","s":"Pristine","w":3740,"a":0.010},{"p":"b","s":"Pristine","w":3735,"a":0.003},{"p":"b","s":"Pristine","w":3700,"a":0.003},{"p":"b","s":"Pristine","w":3640,"a":0.002},{"p":"b","s":"Pristine","w":3610,"a":0.003},{"p":"b","s":"Pristine","w":3600,"a":0.006},{"p":"b","s":"Pristine","w":3594,"a":0.002},{"p":"b","s":"Pristine","w":3588,"a":0.009},{"p":"b","s":"Pristine","w":3582,"a":0.003},{"p":"b","s":"Pristine","w":3576,"a":0.011},{"p":"b","s":"Pristine","w":3570,"a":0.002},{"p":"b","s":"Pristine","w":3564,"a":0.010},{"p":"b","s":"Pristine","w":3558,"a":0.002},{"p":"b","s":"Pristine","w":3552,"a":0.008},{"p":"b","s":"Pristine","w":3546,"a":0.001},{"p":"b","s":"Pristine","w":3540,"a":0.007},{"p":"b","s":"Pristine","w":3534,"a":0.001},{"p":"b","s":"Pristine","w":3528,"a":0.006},{"p":"b","s":"Pristine","w":3522,"a":0.001},{"p":"b","s":"Pristine","w":3516,"a":0.005},{"p":"b","s":"Pristine","w":3510,"a":0.001},{"p":"b","s":"Pristine","w":3503,"a":0.004},{"p":"b","s":"Pristine","w":3496,"a":0.001},{"p":"b","s":"Pristine","w":3488,"a":0.003},{"p":"b","s":"Pristine","w":3478,"a":0.001},{"p":"b","s":"Pristine","w":3468,"a":0.003},{"p":"b","s":"Pristine","w":3450,"a":0.002},{"p":"b","s":"Pristine","w":3420,"a":0.003},{"p":"b","s":"Pristine","w":3390,"a":0.003},{"p":"b","s":"Pristine","w":3350,"a":0.003},{"p":"b","s":"Pristine","w":3300,"a":0.002},{"p":"b","s":"Pristine","w":3250,"a":0.002},{"p":"b","s":"Pristine","w":3200,"a":0.000},{"p":"b","s":"Pristine","w":3150,"a":-0.001},{"p":"b","s":"Pristine","w":3100,"a":-0.001},{"p":"b","s":"Pristine","w":3050,"a":0.000},{"p":"b","s":"Pristine","w":3020,"a":0.002},{"p":"b","s":"Pristine","w":2995,"a":0.003},{"p":"b","s":"Pristine","w":2980,"a":0.008},{"p":"b","s":"Pristine","w":2970,"a":0.0115},{"p":"b","s":"Pristine","w":2960,"a":0.006},{"p":"b","s":"Pristine","w":2950,"a":0.002},{"p":"b","s":"Pristine","w":2900,"a":0.001},{"p":"b","s":"Pristine","w":2800,"a":0.001},{"p":"b","s":"Pristine","w":2600,"a":0.001},{"p":"b","s":"Pristine","w":2420,"a":0.001},{"p":"b","s":"Pristine","w":2392,"a":0.002},{"p":"b","s":"Pristine","w":2382,"a":0.017},{"p":"b","s":"Pristine","w":2369,"a":-0.002},{"p":"b","s":"Pristine","w":2352,"a":0.013},{"p":"b","s":"Pristine","w":2337,"a":-0.002},{"p":"b","s":"Pristine","w":2315,"a":0.015},{"p":"b","s":"Pristine","w":2295,"a":0.004},{"p":"b","s":"Pristine","w":2280,"a":0.001},{"p":"b","s":"Pristine","w":2250,"a":0.000},{"p":"b","s":"Pristine","w":2200,"a":0.000},{"p":"b","s":"Pristine","w":2150,"a":0.001},{"p":"b","s":"Pristine","w":2100,"a":0.001},{"p":"b","s":"Pristine","w":2050,"a":0.001},{"p":"b","s":"Pristine","w":2000,"a":0.001}
]},
"spacing": 101,
"bounds": "flush",
"resolve": {"scale": {"color": "independent"}, "legend": {"color": "independent"}},
"hconcat": [
 {
  "width": 449, "height": 315,
  "data": {"name": "d"},
  "layer": [
   {
    "transform": [{"filter": "datum.p === 'a'"}],
    "mark": {"type": "line", "strokeWidth": 1.8, "clip": true},
    "encoding": {
     "x": {"field": "w", "type": "quantitative", "scale": {"domain": [2000, 4000], "reverse": true, "nice": false, "zero": false},
           "axis": {"values": [4000, 3500, 3000, 2500, 2000], "format": "d", "title": "Wavenumber (cm⁻¹)", "tickSize": -6, "labelPadding": 23, "titlePadding": 14, "labelFlush": false}},
     "y": {"field": "a", "type": "quantitative", "scale": {"domain": [-0.0112, 0.30], "nice": false, "zero": false},
           "axis": {"values": [0, 0.05, 0.1, 0.15, 0.2, 0.25, 0.3], "format": ".2f", "title": "Absorbance", "tickSize": -4, "labelPadding": 16, "titlePadding": 12}},
     "color": {"field": "s", "type": "nominal", "scale": {"domain": ["Pristine", "GS", "BSA+GS", "SA+GS"], "range": ["#141414", "#ff2a2a", "#3c2386", "#9c2f92"]}, "legend": {"title": null}}
    }
   },
   {
    "data": {"values": [{}]},
    "mark": {"type": "rule", "opacity": 0},
    "encoding": {"y": {"datum": 0, "type": "quantitative", "axis": {"orient": "right", "labels": false, "domain": false, "tickSize": -4, "title": null, "values": [0, 0.05, 0.1, 0.15, 0.2, 0.25, 0.3]}}}
   },
   {
    "data": {"values": [{}]},
    "mark": {"type": "text", "text": "(a)", "fontSize": 33, "fontWeight": "bold", "font": "Liberation Sans", "align": "left", "baseline": "alphabetic", "color": "#1a1a1a"},
    "encoding": {"x": {"datum": 3911, "type": "quantitative"}, "y": {"datum": 0.2567, "type": "quantitative", "axis": null}}
   }
  ],
  "resolve": {"axis": {"y": "independent"}}
 },
 {
  "width": 449, "height": 315,
  "data": {"name": "d"},
  "layer": [
   {
    "transform": [{"filter": "datum.p === 'b'"}],
    "mark": {"type": "line", "strokeWidth": 1.8, "clip": true},
    "encoding": {
     "x": {"field": "w", "type": "quantitative", "scale": {"domain": [2000, 4000], "reverse": true, "nice": false, "zero": false},
           "axis": {"values": [4000, 3500, 3000, 2500, 2000], "format": "d", "title": "Wavenumber (cm⁻¹)", "tickSize": -6, "labelPadding": 23, "titlePadding": 14, "labelFlush": false}},
     "y": {"field": "a", "type": "quantitative", "scale": {"domain": [-0.0112, 0.30], "nice": false, "zero": false},
           "axis": {"values": [0, 0.05, 0.1, 0.15, 0.2, 0.25, 0.3], "format": ".2f", "title": null, "tickSize": -4, "labelPadding": 16}},
     "color": {"field": "s", "type": "nominal", "scale": {"domain": ["Pristine", "GS", "BSA+GS", "SA+GS"], "range": ["#141414", "#ff2a2a", "#3c2386", "#9c2f92"]}, "legend": {"title": null}}
    }
   },
   {
    "data": {"values": [{}]},
    "mark": {"type": "rule", "opacity": 0},
    "encoding": {"y": {"datum": 0, "type": "quantitative", "axis": {"orient": "right", "labels": false, "domain": false, "tickSize": -4, "title": null, "values": [0, 0.05, 0.1, 0.15, 0.2, 0.25, 0.3]}}}
   },
   {
    "data": {"values": [{}]},
    "mark": {"type": "text", "text": "(b)", "fontSize": 33, "fontWeight": "bold", "font": "Liberation Sans", "align": "left", "baseline": "alphabetic", "color": "#1a1a1a"},
    "encoding": {"x": {"datum": 3911, "type": "quantitative"}, "y": {"datum": 0.2567, "type": "quantitative", "axis": null}}
   }
  ],
  "resolve": {"axis": {"y": "independent"}}
 }
]
}
